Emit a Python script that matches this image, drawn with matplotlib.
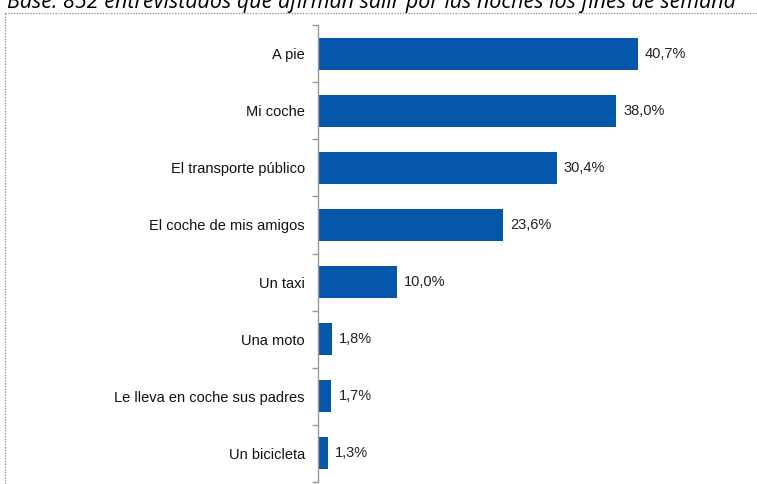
import matplotlib
matplotlib.use("Agg")
import matplotlib.pyplot as plt
from matplotlib.lines import Line2D
import numpy as np

categorias = ["A pie", "Mi coche", "El transporte público", "El coche de mis amigos",
              "Un taxi", "Una moto", "Le lleva en coche sus padres", "Un bicicleta"]
porcentajes = [40.7, 38.0, 30.4, 23.6, 10.0, 1.8, 1.7, 1.3]
etiquetas = ["40,7%", "38,0%", "30,4%", "23,6%", "10,0%", "1,8%", "1,7%", "1,3%"]
titulo = "Base: 852 entrevistados que afirman salir por las noches los fines de semana"

W, H = 757, 484
fig = plt.figure(figsize=(W / 100, H / 100), dpi=100)
fig.patch.set_facecolor("white")

# ejes colocados en pixeles
x0, x1 = 318, 750
y_top, y_bot = 25, 482
ax = fig.add_axes([x0 / W, (H - y_bot) / H, (x1 - x0) / W, (y_bot - y_top) / H])

n = len(categorias)
pos = np.arange(n)
ax.barh(pos, porcentajes, height=0.56, color="#0557AB", edgecolor="none")
ax.set_xlim(0, 55)
ax.set_ylim(n - 0.5, -0.5)

for p, v, t in zip(pos, porcentajes, etiquetas):
    ax.text(v + 0.9, p, t, va="center", ha="left", fontsize=10.5,
            family="Liberation Sans", color="#222222")

ax.set_yticks(pos)
ax.set_yticklabels(categorias, family="Liberation Sans", fontsize=10.5, color="#111111")
ax.tick_params(axis="y", which="major", length=0, pad=9.5)
ax.set_yticks(np.arange(-0.5, n), minor=True)
ax.tick_params(axis="y", which="minor", length=4, color="#999999", width=1)
ax.set_xticks([])
for s in ["top", "right", "bottom"]:
    ax.spines[s].set_visible(False)
ax.spines["left"].set_color("#999999")
ax.spines["left"].set_linewidth(1)

# titulo en cursiva, cortado por arriba
fig.text(7 / W, 1 - 8 / H, titulo, ha="left", va="baseline", fontsize=15.5,
         family="Open Sans", style="italic", color="#000000")

# bordes punteados
fig.add_artist(Line2D([5 / W, 1], [1 - 12.5 / H] * 2, transform=fig.transFigure,
                      color="#999999", linestyle=(0, (1, 1)), linewidth=1))
fig.add_artist(Line2D([5 / W] * 2, [0, 1 - 12.5 / H], transform=fig.transFigure,
                      color="#999999", linestyle=(0, (1, 1)), linewidth=1))

fig.savefig("out.png", dpi=100)
